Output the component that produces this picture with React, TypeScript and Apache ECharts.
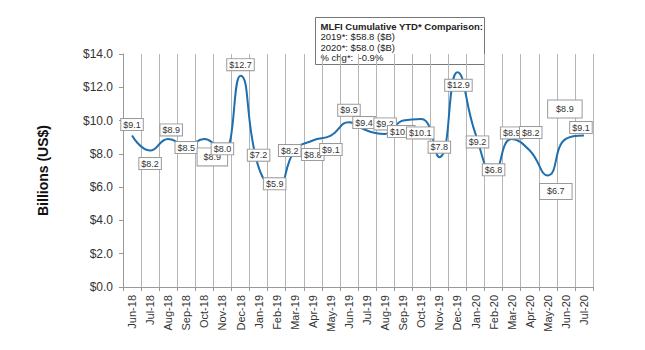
import React, { useEffect, useRef } from "react";
import * as echarts from "echarts";

const categories = [
  "Jun-18", "Jul-18", "Aug-18", "Sep-18", "Oct-18", "Nov-18", "Dec-18",
  "Jan-19", "Feb-19", "Mar-19", "Apr-19", "May-19", "Jun-19", "Jul-19",
  "Aug-19", "Sep-19", "Oct-19", "Nov-19", "Dec-19", "Jan-20", "Feb-20",
  "Mar-20", "Apr-20", "May-20", "Jun-20", "Jul-20",
];

const values = [
  9.1, 8.2, 8.9, 8.5, 8.9, 8.0, 12.7,
  7.2, 5.9, 8.2, 8.8, 9.1, 9.9, 9.4,
  9.2, 10.0, 10.1, 7.8, 12.9, 9.2, 6.8,
  8.9, 8.2, 6.7, 8.9, 9.1,
];

const yTicks = [0, 2, 4, 6, 8, 10, 12, 14];

const noteLines = [
  "MLFI Cumulative YTD* Comparison:",
  "2019*: $58.8 ($B)",
  "2020*: $58.0 ($B)",
  "% chg*:  -0.9%",
];

// label placement (style only): offset from point, padding
const labelOffsets: number[][] = [
  [0, -11], [0, 13], [3, -9], [0, 2], [8, 18], [0, -5], [0, -11],
  [0, -12], [-2, -5], [-5, 0], [0, 14], [0, 14], [0, -12], [-3, -8],
  [0, -10], [-2, 11], [-1, 14], [0, -10], [1, 13], [2, 8], [0, -4],
  [0, -6], [1, -18], [8, 16], [-1, -30], [-3, -8],
];
const bigPad: Record<number, number[]> = { 4: [4, 6], 23: [3, 7], 24: [4, 8] };

export default function App() {
  const ref = useRef<HTMLDivElement>(null);
  useEffect(() => {
    if (!ref.current) return;
    const chart = echarts.init(ref.current, null, { renderer: "svg" });
    const font = "'Liberation Sans', Arial, sans-serif";
    const data = values.map((v, i) => ({
      value: v,
      label: {
        offset: labelOffsets[i],
        padding: bigPad[i] || [1, 2],
      },
    }));
    chart.setOption({
      animation: false,
      backgroundColor: "#ffffff",
      grid: { left: 123, right: 52, top: 54, bottom: 63 },
      xAxis: {
        type: "category",
        data: categories,
        boundaryGap: true,
        axisLine: { show: true, lineStyle: { color: "#999999", width: 1 } },
        axisTick: { show: true, length: 4, alignWithLabel: false, lineStyle: { color: "#999999" } },
        splitLine: { show: true, lineStyle: { color: "#b5b5b5", width: 1 } },
        axisLabel: {
          rotate: 90,
          interval: 0,
          fontSize: 11,
          fontFamily: font,
          color: "#333333",
          margin: 8,
        },
      },
      yAxis: {
        type: "value",
        min: 0,
        max: 14,
        interval: 2,
        name: "Billions (US$)",
        nameLocation: "middle",
        nameGap: 73,
        nameRotate: 90,
        nameTextStyle: { fontSize: 14, fontWeight: "bold", fontFamily: font, color: "#111111" },
        axisLine: { show: true, lineStyle: { color: "#999999", width: 1 } },
        axisTick: { show: true, length: 4, lineStyle: { color: "#999999" } },
        splitLine: { show: false },
        axisLabel: {
          fontSize: 12,
          fontFamily: font,
          color: "#333333",
          margin: 10,
          formatter: (v: number) => (yTicks.includes(v) ? "$" + v.toFixed(1) : ""),
        },
      },
      series: [
        {
          type: "line",
          data,
          smooth: 0.5,
          symbol: "circle",
          symbolSize: 1,
          showSymbol: true,
          itemStyle: { color: "rgba(0,0,0,0)" },
          lineStyle: { color: "#1f6fae", width: 2 },
          label: {
            show: true,
            position: "inside",
            formatter: (p: any) => "$" + Number(p.value).toFixed(1),
            fontSize: 9,
            fontFamily: font,
            color: "#333333",
            backgroundColor: "#ffffff",
            borderColor: "#9a9a9a",
            borderWidth: 1,
          },
        },
      ],
      graphic: [
        {
          type: "group",
          left: 315,
          top: 17,
          children: [
            {
              type: "rect",
              shape: { x: 0, y: 0, width: 169, height: 47 },
              style: { fill: "#ffffff", stroke: "#777777", lineWidth: 1 },
            },
            ...noteLines.map((t, i) => ({
              type: "text",
              x: 5,
              y: 4 + i * 10.3,
              style: {
                text: t,
                fontSize: 9.5,
                fontFamily: font,
                fontWeight: i === 0 ? "bold" : "normal",
                fill: "#222222",
              },
            })),
          ],
        },
      ],
    });
    return () => chart.dispose();
  }, []);
  return (
    <div
      ref={ref}
      style={{ position: "absolute", left: 0, top: 0, width: 645, height: 350 }}
    />
  );
}
